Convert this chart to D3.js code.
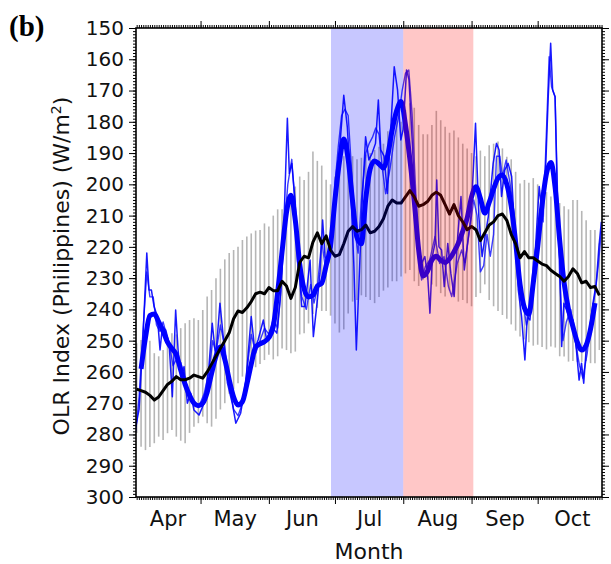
<!DOCTYPE html>
<html><head><meta charset="utf-8">
<script src="https://cdn.jsdelivr.net/npm/d3@7"></script>
<style>
body{margin:0;background:#fff}
svg{display:block}
</style>
</head><body>
<svg id="c" width="611" height="564"></svg>
<script>
// ---------------- DATA (day index: 0 = 1 April) ----------------
const gridDays = d3.range(1, 212, 2);
const climOlr = [265.5,266,266.5,267.5,269,268,266,264,263,261.5,
 262.5,262.5,262,261,261.5,262,260,257.5,255,252.5,
 250,247.5,243,240.5,241,239.5,237.5,235,234.5,235,
 233,234,234,231,232.5,236.5,233,225,223,223.5,
 218.5,215.5,219,216.5,221,223,222.5,219,215,213.5,
 215,214.5,213,215.5,215,213.5,211,207,205,206,
 206,204,202,204,207,206.5,205.5,203.5,202.5,203.5,
 206.5,209.5,206.5,210,212,214.5,213.5,214.5,218,215.5,
 213,212,210,209.5,211.5,216,219,223.5,221.5,223.5,
 223.5,224.5,225.5,226,227.5,228.5,229.5,231,229.5,227,
 228.5,231.5,231,233,232.7,235.5];
const spreadTop = [250.8,249.8,247,250,254,255,253,248.7,247.6,248,
 246,244.4,243.4,242.8,243.4,240.2,235.9,233.8,230,227,
 224,222,221,220,217.8,216.7,215.7,214.8,214.6,212.5,
 213.5,210,208,208,207,204,200.7,197.5,198.6,196,
 189.5,192.5,194,198.5,200,197.5,194,191,189,191,
 192,191.5,190.5,190,189,188,187,183,179,178,
 180,176.2,174.1,175.5,181,184,184,181,176.5,179.5,
 181.6,183.5,182.8,185,187,188.5,190,191,189.2,191,
 187.5,187,186.3,188.5,191.2,192,196,199.7,198.6,199.5,
 198,200,201.8,202.5,203.9,204,206,207,208,205,
 205,208.5,211.5,214.6,214.6,218.9];
const spreadBottom = [279.5,283.9,285,284,282.8,280.7,281.8,279.6,278.6,280.7,
 282,282.8,279.5,277.5,276.4,274.3,276.4,277.5,275,272,
 270,267,265.5,263.6,261.5,260.4,259.4,258.5,257.5,256.2,
 254.5,256,255,252.5,253,254,253.5,248,247.6,244.5,
 241.5,239.5,240.5,240.5,242,244.5,247.4,246.4,241.3,237.5,
 237,235.5,236,237,238,236,234,233,231,231,
 229.5,228.5,227.4,231,232.5,230.5,230.5,232,232.7,234.8,
 235.9,234,235.5,237.5,237,238,239,236,234.8,232,
 237,239,240.5,241.8,243,244.8,246.8,248.7,249.6,250.5,
 251.6,251.3,252,252.8,251.9,252.2,255,255.1,256.7,256.5,
 256.8,256.8,256.5,257.2,257.2,253];
const smoothDays = d3.range(3, 210, 2);
const smoothOlr = [259,249,242,241.5,244,247,250.5,252.5,254.5,259.4,
 264,267.5,270,270.8,270,266.5,260.5,255,252,256,
 262.5,268,270.6,269.5,264,257.5,252,251,250.3,249,
 245.5,234.5,221.5,209,203.5,211.5,225.5,233.5,236,235.5,
 232.5,231.6,226,219.5,205,193,185.5,192,205.5,217,
 219,204.5,195,192.5,193.5,194.8,190.5,182.5,176.5,173.5,
 181,192,205.5,221,229.3,227.8,224.2,223,224.3,225,
 223.8,221.6,218.8,215,210.8,204,200.8,204.5,209.2,205.8,
 201.5,198,197,200,207,218.5,232,239.5,241.5,231.5,
 220,206.5,196.5,193,201.5,218,231.5,240,245.5,250.5,
 253,251.5,246.3,238];
const rawDaysA = [0.6,2.1,3.6,5.6,6.6,7.7,8.9,10.4,11.6,12.7,14.2,15.7,17.2,18.7,19.8,21,22.5,24,25.5,27,
 29.3,31.6,33.8,35.3,36.9,38.8,40.3,42.2,44.4,46,48.2,50.5,52,53,54.6,56.1,58.5,60,62.3,64.6,
 66.1,67.6,69.4,70.3,71.4,72.9,74.4,75.9,77.4,79.7,81.2,82.7,84.2,85.4,86.5,88,89.5,91,92.5,95,
 96.6,98.1,99.6,100.7,101.9,103.4,104.9,106.4,107.9,109.4,110.7,111.8,113.3,114.8,116.3,117.9,119.4,120.9,121.9,123.5,
 124.6,125.8,127.3,128.8,130.3,131.8,133.1,134.1,135.2,136.4,137.2,138.2,139.4,140.6,142.2,143.6,145.1,146.7,148.2,149.7,
 151.2,152.7,153.8,154.8,156.3,157.8,159.1,160.6,162.8,164.3,165.5,166.6,168.1,169.6,171.2,172.7,174.2,175.7,177.2,178.3,
 179.5,181,182.5,183.7,185.2,186.7,187.8,188.9,189.8,190.9,191.9,193.1,193.9,194.9,196.1,197.6,199.1,200.6,201.8,202.9,
 203.9,205.1,206.6,208.1,209.6,210.8,211.9];
const rawOlrA = [277.5,272,253,222,233.8,233.8,239.1,242.3,253,245.5,246.6,250.8,267.9,240.2,253,261.5,258.3,270,266.8,272.2,
 273.8,270,258.3,244.4,255.1,238,248.7,263.6,270,276.4,273.2,263.6,250.8,242.3,253,249.8,243.4,249.8,245.5,247.6,
 237,217.8,178.9,196.5,193.3,205,223.1,239.1,239.1,224.2,248.7,239.1,228.5,211.4,223.1,225.3,220,205,194.3,171.5,
 181.6,199.7,226.3,253,231.6,205,184.8,192.2,190,186.9,173,189,191,202.9,182.6,162.4,169.8,185.8,182.6,163.4,
 166.6,182.6,203.9,221,225.3,223.1,229.5,241.2,223.1,218.9,198.6,220,221,232.7,218.9,228.5,235.9,216.7,203.9,227.4,
 218.9,210.3,195.4,180.5,210.3,223.1,216.7,210.3,193.3,186.9,189,203.9,195.4,193.3,197.5,216.7,233.8,242.3,256.2,242.3,
 243.4,231.6,214.6,200.7,210.3,193.3,172,154.9,169.8,172,203.9,225.3,251.9,238,240.2,243.4,243.4,253,262.6,257.2,
 263.6,251.9,246.6,238,231.6,220,212];
const rawDaysB = [0.6,2.1,3.6,5.6,7,8.5,10,11.5,13,14.5,16,17.5,19,21,23,25,27,29.3,31.6,33.8,
 35.5,37,39,41,43,45,47,49,51,53,55,57,59,61,63,65,66.5,68,69.6,71.4,
 72.6,74,76,78,80,81.5,83,85,86.5,88,89.5,91,92.5,94,95.5,97,98.5,100,101.5,103,
 105,106.5,108,109.5,111,112.5,114,116,118,120,121.5,123,124.5,126,127.5,129,130.3,132,134,136.4,
 138.5,140.5,142.5,144,146.5,148.5,150,152,154,155.5,157,158.5,160,161.5,163,164.3,165.8,167,168.7,170.5,
 172.1,174.2,176.4,177.9,179.5,181,182.5,184,185.5,187,188.2,189.3,190.9,191.6,193,194.5,196,198,200,202,
 203.5,205.5,207,209,210.5,211.9];
const rawOlrB = [279,268,250,228,236,236,245,247,244,248,252,258,256,257,262,268,270,271,267,260,
 250,254,245,252,264,272,274,270,260,248,254,250,246,248,243,246,234,214,200,192,
 204,225,236,240,232,238,233,218,226,224,215,200,188,178,176,178,195,215,222,205,
 190,187,185,182,184,195,203,195,185,178,170,164.5,163.4,177.3,200,222,230.6,226.3,224.2,216.7,
 225.3,223.1,232.7,235.9,225.3,221,225,215,205,210,228,226,216,223,216,191,191,197.5,192.2,200,
 208.2,225.3,238,245,241,225.3,218,208.2,212,182.6,159.2,168.8,172,191.2,230,250,244,240,250,258,
 262,254,244,235,226,215];
const monthStarts = [30, 61, 91, 122, 153, 183];
const monthMids = [15, 45.5, 76, 106.5, 137.5, 168, 198.5];
const monthLabels = ["Apr","May","Jun","Jul","Aug","Sep","Oct"];
const yTicks = d3.range(150, 301, 10);
const activePeriod = [89.2, 122];
const breakPeriod = [122, 153.8];

// ---------------- CHART ----------------
const svg = d3.select("#c");
const L = 136, R = 602, T = 28, B = 497;
const x = d3.scaleLinear().domain([0.7, 212.2]).range([L, R]);
const y = d3.scaleLinear().domain([150, 300]).range([T, B]);
const SANS = "'DejaVu Sans', sans-serif";

svg.append("defs").append("clipPath").attr("id","clip")
  .append("rect").attr("x",L).attr("y",T).attr("width",R-L).attr("height",B-T);
const plot = svg.append("g").attr("clip-path","url(#clip)");

// spread bars
plot.append("g").selectAll("line").data(gridDays).join("line")
  .attr("x1", d => x(d)).attr("x2", d => x(d))
  .attr("y1", (d,i) => y(spreadTop[i])).attr("y2", (d,i) => y(spreadBottom[i]))
  .attr("stroke", "#b6b6b6").attr("stroke-width", 1.6);

// raw lines
const lineA = d3.line().x(d => x(d[0])).y(d => y(d[1]));
plot.append("path").datum(rawDaysB.map((d,i)=>[d, rawOlrB[i]]))
  .attr("d", lineA).attr("fill","none").attr("stroke","#1a1aff").attr("stroke-opacity",0.85).attr("stroke-width",1.4).attr("stroke-linejoin","round");
plot.append("path").datum(rawDaysA.map((d,i)=>[d, rawOlrA[i]]))
  .attr("d", lineA).attr("fill","none").attr("stroke","#0000ff").attr("stroke-opacity",0.9).attr("stroke-width",1.5).attr("stroke-linejoin","round");

// smoothed
plot.append("path").datum(smoothDays.map((d,i)=>[d, smoothOlr[i]]))
  .attr("d", d3.line().x(d => x(d[0])).y(d => y(d[1])).curve(d3.curveMonotoneX))
  .attr("fill","none").attr("stroke","#0000ff").attr("stroke-width",5).attr("stroke-linejoin","round");

// climatology
plot.append("path").datum(gridDays.map((d,i)=>[d, climOlr[i]]))
  .attr("d", lineA).attr("fill","none").attr("stroke","#000").attr("stroke-width",3).attr("stroke-linejoin","round");

// shaded periods (overlay)
plot.append("rect").attr("x", x(activePeriod[0])).attr("width", x(activePeriod[1]) - x(activePeriod[0]))
  .attr("y", T).attr("height", B - T).attr("fill", "rgb(0,0,255)").attr("fill-opacity", 0.22);
plot.append("rect").attr("x", x(breakPeriod[0])).attr("width", x(breakPeriod[1]) - x(breakPeriod[0]))
  .attr("y", T).attr("height", B - T).attr("fill", "rgb(255,0,0)").attr("fill-opacity", 0.22);

// axes
function styleAxis(g){ g.select(".domain").remove(); g.selectAll("line").attr("stroke","#000"); }
const dayMinor = d3.range(1, 213);
const yMinor = d3.range(150, 301, 1);
svg.append("g").attr("transform",`translate(${L},0)`).call(d3.axisLeft(y).tickValues(yMinor).tickSize(3).tickFormat("")).call(styleAxis);
svg.append("g").attr("transform",`translate(${L},0)`).call(d3.axisLeft(y).tickValues(yTicks).tickSize(7).tickPadding(5)).call(styleAxis)
  .selectAll("text").style("font-size","20px").style("font-family",SANS).style("fill","#111");
svg.append("g").attr("transform",`translate(${R},0)`).call(d3.axisRight(y).tickValues(yMinor).tickSize(3).tickFormat("")).call(styleAxis);
svg.append("g").attr("transform",`translate(${R},0)`).call(d3.axisRight(y).tickValues(yTicks).tickSize(7).tickFormat("")).call(styleAxis);
svg.append("g").attr("transform",`translate(0,${B})`).call(d3.axisBottom(x).tickValues(dayMinor).tickSize(3).tickFormat("")).call(styleAxis);
svg.append("g").attr("transform",`translate(0,${B})`).call(d3.axisBottom(x).tickValues(monthStarts).tickSize(7).tickFormat("")).call(styleAxis);
svg.append("g").attr("transform",`translate(0,${T})`).call(d3.axisTop(x).tickValues(dayMinor).tickSize(3).tickFormat("")).call(styleAxis);
svg.append("g").attr("transform",`translate(0,${T})`).call(d3.axisTop(x).tickValues(monthStarts).tickSize(7).tickFormat("")).call(styleAxis);
// month labels
svg.append("g").attr("transform",`translate(0,${B})`)
  .call(d3.axisBottom(x).tickValues(monthMids).tickSize(0).tickPadding(14).tickFormat((d,i)=>monthLabels[i]))
  .call(g=>g.select(".domain").remove())
  .selectAll("text").style("font-size","21px").style("font-family",SANS).style("fill","#111");

// frame
svg.append("rect").attr("x",L).attr("y",T).attr("width",R-L).attr("height",B-T)
  .attr("fill","none").attr("stroke","#000").attr("stroke-width",1.6);

// titles
svg.append("text").attr("x",(L+R)/2).attr("y",559).attr("text-anchor","middle")
  .style("font-family",SANS).style("font-size","22px").style("fill","#111").text("Month");
const yt = svg.append("text").attr("transform","translate(69,266) rotate(-90)").attr("text-anchor","middle")
  .style("font-family",SANS).style("font-size","22px").style("fill","#111");
yt.append("tspan").text("OLR Index (Philippines) (W/m");
yt.append("tspan").attr("baseline-shift","super").style("font-size","14px").text("2");
yt.append("tspan").text(")");
svg.append("text").attr("x",9).attr("y",36)
  .style("font-family","'Liberation Serif', 'DejaVu Serif', serif").style("font-weight","bold").style("font-size","29px").style("fill","#000").text("(b)");
</script>
</body></html>
